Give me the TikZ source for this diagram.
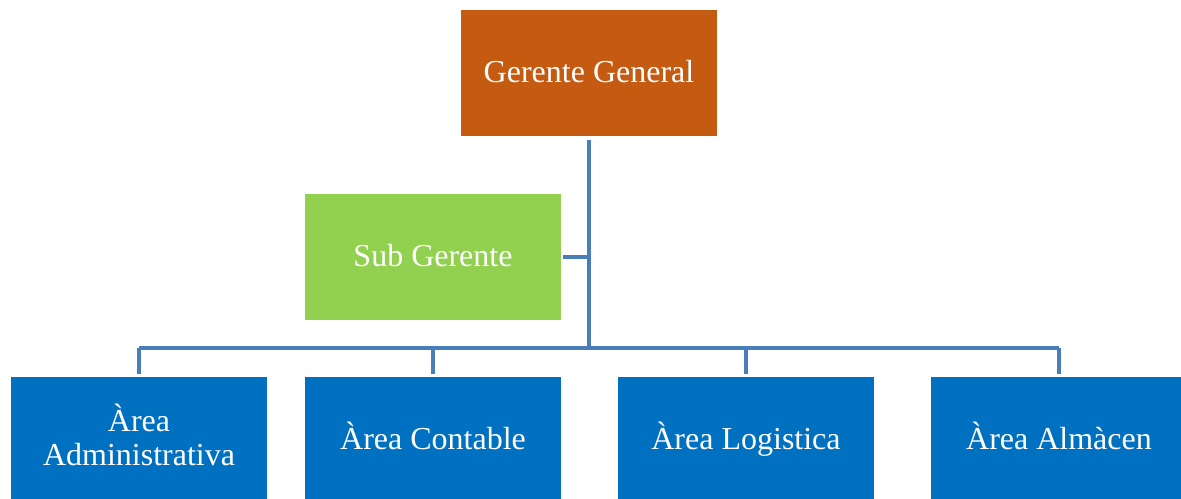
\documentclass[tikz,border=0pt]{standalone}
\usepackage{fontspec}
\setmainfont{Liberation Serif}
\definecolor{gerente}{HTML}{C55A11}
\definecolor{subger}{HTML}{92D050}
\definecolor{area}{HTML}{0070C0}
\definecolor{linea}{HTML}{4A7EBB}
\tikzset{
  caja/.style={rectangle,inner sep=0pt,minimum width=192pt,minimum height=94.5pt,
    text=white,align=center,font=\fontsize{24}{25}\selectfont},
  cajauna/.style={caja,text height=18.5pt,text depth=4.3pt},
  cajados/.style={caja,text height=42pt,text depth=4.5pt},
  enlace/.style={draw=linea,line width=2.3pt}
}

\begin{document}
\begin{tikzpicture}[x=0.75pt,y=-0.75pt]
  \useasboundingbox (0,0) rectangle (1181,499);
  \node[cajauna,fill=gerente] (GG) at (589,73)   {Gerente General};
  \node[cajauna,fill=subger]  (SG) at (433,257)  {Sub Gerente};
  \node[cajados,fill=area]    (A1) at (139,440)  {Àrea\\Administrativa};
  \node[cajauna,fill=area]    (A2) at (433,440)  {Àrea Contable};
  \node[cajauna,fill=area]    (A3) at (746,440)  {Àrea Logistica};
  \node[cajauna,fill=area]    (A4) at (1059,440) {Àrea Almàcen};
  \coordinate (hub) at (589,348);
  % conectores
  \draw[enlace,shorten <=3pt] (GG.south) -- (hub);
  \draw[enlace,shorten <=1.5pt] (SG.east) -- (SG.east -| hub);
  \draw[enlace] (hub -| A1) -- (hub -| A4);
  \foreach \a in {A1,A2,A3,A4}
    \draw[enlace,shorten >=2pt] (hub -| \a) -- (\a.north);
\end{tikzpicture}
\end{document}
